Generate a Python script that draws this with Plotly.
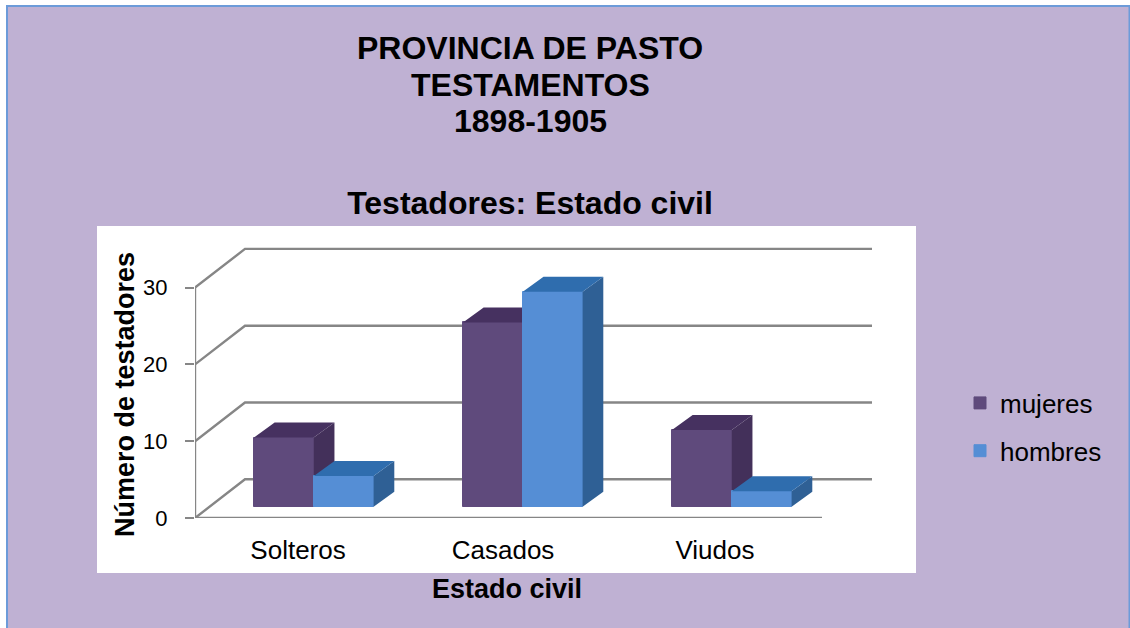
import plotly.graph_objects as go

# ---- data ----
categories = ["Solteros", "Casados", "Viudos"]
mujeres = [9, 24, 10]
hombres = [4, 28, 2]
y_ticks = [0, 10, 20, 30]
title_lines = ["PROVINCIA DE PASTO", "TESTAMENTOS", "1898-1905"]

# ---- figure frame (pixels) ----
W, H = 1130, 628
L, R, T, B = 195, 916, 226, 518
PX_X = 209.0      # px per category
PX_Y = 7.68       # px per unit
X0_PX = 299.5     # px of category 0


def px(x):
    return (x - L) / (R - L)


def py(y):
    return (B - y) / (B - T)


xr = [(L - X0_PX) / PX_X, (R - X0_PX) / PX_X]
yr = [0, (B - T) / PX_Y]
wall_dx, wall_dy = 50 / PX_X, 38.7 / PX_Y
bar_w = 59.8 / PX_X
bar_base = 11.3 / PX_Y
muj_shift, hom_shift = -0.0749, 0.2115
side_dx, side_dy = 20.7 / PX_X, 15 / PX_Y
label_shift = [-0.007, -0.026, -0.012]

GRID = "#868686"
COL = {
    "mujeres": ("#5F4A7C", "#463160", "#43305A"),
    "hombres": ("#558ED5", "#2F6DAE", "#2F6095"),
}

fig = go.Figure()

# walls / gridlines on the base axes
gx, gy = [], []
for v in y_ticks:
    gx += [xr[0], xr[0] + wall_dx, 2.5 + wall_dx, None]
    gy += [v, v + wall_dy, v + wall_dy, None]
gx += [xr[0], xr[0], None, xr[0], 2.5]
gy += [y_ticks[0], y_ticks[-1], None, 0, 0]
fig.add_trace(go.Scatter(x=gx, y=gy, mode="lines", line=dict(color=GRID, width=2.4),
                         showlegend=False, hoverinfo="skip", xaxis="x", yaxis="y"))


def add_series(name, values, shift, xa, ya):
    front, top, side = COL[name]
    xs = [i + shift for i in range(len(values))]
    fig.add_trace(go.Bar(x=xs, y=values, base=bar_base, width=bar_w, name=name,
                         marker=dict(color=front, line=dict(width=1, color=front)),
                         legendgroup=name, xaxis=xa, yaxis=ya))
    sx, sy, tx, ty = [], [], [], []
    for xc, v in zip(xs, values):
        l, r = xc - bar_w / 2, xc + bar_w / 2
        b, t = bar_base, bar_base + v
        sx += [r, r + side_dx, r + side_dx, r, r, None]
        sy += [b, b + side_dy, t + side_dy, t, b, None]
        tx += [l, l + side_dx, r + side_dx, r, l, None]
        ty += [t, t + side_dy, t + side_dy, t, t, None]
    for X, Y, c in ((sx, sy, side), (tx, ty, top)):
        fig.add_trace(go.Scatter(x=X, y=Y, mode="lines", fill="toself", fillcolor=c,
                                 line=dict(width=0, color=c), showlegend=False,
                                 hoverinfo="skip", legendgroup=name, xaxis=xa, yaxis=ya))


add_series("mujeres", mujeres, muj_shift, "x2", "y2")
add_series("hombres", hombres, hom_shift, "x3", "y3")

FONT = "Liberation Sans, Arial, sans-serif"

anns = []
for txt, yc in zip(title_lines, [48, 85, 121]):
    anns.append(dict(text=f"<b>{txt}</b>", x=px(530), y=py(yc), xref="paper", yref="paper",
                     xanchor="center", yanchor="middle", showarrow=False,
                     font=dict(size=32, color="black", family=FONT)))
anns.append(dict(text="<b>Número de testadores</b>", x=px(125), y=py(395), xref="paper", yref="paper",
                 xanchor="center", yanchor="middle", textangle=-90, showarrow=False,
                 font=dict(size=27, color="black", family=FONT)))
anns.append(dict(text="<b>Estado civil</b>", x=px(507), y=py(589), xref="paper", yref="paper",
                 xanchor="center", yanchor="middle", showarrow=False,
                 font=dict(size=27, color="black", family=FONT)))

shapes = [
    dict(type="rect", xref="paper", yref="paper", layer="below",
         x0=px(7), x1=px(1129.5), y0=py(6), y1=py(632),
         fillcolor="#BFB1D3", line=dict(color="#6C9BD9", width=2)),
    dict(type="rect", xref="paper", yref="paper", layer="below",
         x0=px(97), x1=px(916), y0=py(226), y1=py(573),
         fillcolor="white", line=dict(width=0)),
]

hidden = dict(visible=False, fixedrange=True)
fig.update_layout(
    width=W, height=H, autosize=False,
    margin=dict(l=L, r=W - R, t=T, b=H - B, pad=0),
    paper_bgcolor="white", plot_bgcolor="rgba(0,0,0,0)",
    barmode="overlay", bargap=0,
    font=dict(family=FONT, color="black", size=26),
    title=dict(text="<b>Testadores: Estado civil</b>", x=530 / W, xanchor="center",
               y=1 - 203 / H, yanchor="middle", font=dict(size=32, color="black", family=FONT)),
    xaxis=dict(range=xr, tickmode="array",
               tickvals=[i + s for i, s in enumerate(label_shift)], ticktext=categories,
               ticks="", showgrid=False, zeroline=False, showline=False,
               tickfont=dict(size=26), ticklabelstandoff=14, fixedrange=True),
    yaxis=dict(range=yr, tickmode="array", tickvals=y_ticks, ticks="outside", ticklen=9,
               tickwidth=2, tickcolor=GRID, showgrid=False, zeroline=False, showline=False,
               tickfont=dict(size=22), ticklabelstandoff=13, fixedrange=True),
    xaxis2=dict(range=xr, overlaying="x", **hidden),
    yaxis2=dict(range=yr, overlaying="y", **hidden),
    xaxis3=dict(range=xr, overlaying="x", **hidden),
    yaxis3=dict(range=yr, overlaying="y", **hidden),
    legend=dict(x=px(960), y=py(379.5), xanchor="left", yanchor="top", bgcolor="rgba(0,0,0,0)",
                traceorder="grouped", tracegroupgap=11, font=dict(size=26, color="black"),
                itemwidth=30),
    shapes=shapes, annotations=anns,
)

fig.write_html("out.html", config={"displayModeBar": False},
               post_script="document.body.style.margin='0';document.body.style.overflow='hidden';")
